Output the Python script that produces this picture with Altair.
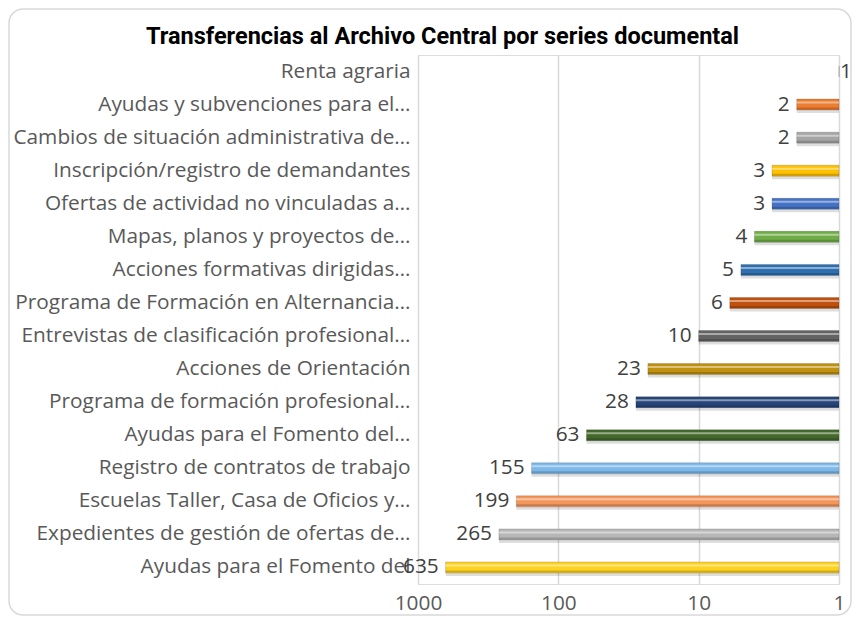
import altair as alt
import pandas as pd

categories = [
    "Renta agraria\u00a0\u00a0\u00a0",
    "Ayudas y subvenciones para el…",
    "Cambios de situación administrativa de…",
    "Inscripción/registro de demandantes\u00a0\u00a0\u00a0",
    "Ofertas de actividad no vinculadas a…",
    "Mapas, planos y proyectos de…",
    "Acciones formativas dirigidas…",
    "Programa de Formación en Alternancia…",
    "Entrevistas de clasificación profesional…",
    "Acciones de Orientación\u00a0\u00a0\u00a0",
    "Programa de formación profesional…",
    "Ayudas para el Fomento del…",
    "Registro de contratos de trabajo\u00a0\u00a0\u00a0",
    "Escuelas Taller, Casa de Oficios y…",
    "Expedientes de gestión de ofertas de…",
    "Ayudas para el Fomento del",
]
values = [1, 2, 2, 3, 3, 4, 5, 6, 10, 23, 28, 63, 155, 199, 265, 635]
colors = [
    "#5B9BD5", "#ED7D31", "#A5A5A5", "#FFC000", "#4472C4", "#70AD47",
    "#2E6FB0", "#C0500E", "#636363", "#C09010", "#264478", "#43682B",
    "#7CB8E8", "#F4955A", "#B7B7B7", "#FFD21F",
]
ticks = [1, 10, 100, 1000]
title_text = "Transferencias al Archivo Central por series documental"

df = pd.DataFrame({"cat": categories, "value": values, "color": colors})
df["base"] = 1

W, H = 421, 529
PAD_L, PAD_T, PAD_R, PAD_B = 410, 47, 13, 32
LABEL_FONT = "Open Sans"
LABEL_SIZE = 20.8

xscale = alt.Scale(type="log", domain=[1, 1000], reverse=True)
yenc = alt.Y("cat:N", sort=categories,
             scale=alt.Scale(paddingInner=0, paddingOuter=0),
             axis=alt.Axis(title=None, domain=False, ticks=False, labelPadding=8,
                           labelFont=LABEL_FONT, labelFontSize=LABEL_SIZE,
                           labelColor="#595959", labelLimit=600))
xenc = alt.X("value:Q", scale=xscale,
             axis=alt.Axis(title=None, values=ticks, format="d", domain=False, ticks=False,
                           grid=True, gridColor="#d9d9d9", gridWidth=1.5,
                           labelFont=LABEL_FONT, labelFontSize=LABEL_SIZE,
                           labelColor="#595959", labelPadding=9,
                           labelFlush=False))

base = alt.Chart(df)

shadow = base.mark_bar(size=9, yOffset=4, color="#000000", opacity=0.13).encode(
    x=xenc, x2="base:Q", y=yenc)
bars = base.mark_bar(size=11, stroke="#00000033", strokeWidth=0.8).encode(
    x=xenc, x2="base:Q", y=yenc,
    color=alt.Color("color:N", scale=None, legend=None))
hi = base.mark_bar(size=2, yOffset=-2, color="#ffffff", opacity=0.45).encode(
    x=xenc, x2="base:Q", y=yenc)
lo = base.mark_bar(size=2, yOffset=4, color="#000000", opacity=0.18).encode(
    x=xenc, x2="base:Q", y=yenc)

labels = base.transform_filter("datum.value > 1").mark_text(
    align="right", baseline="middle", dx=-7, font=LABEL_FONT, fontSize=LABEL_SIZE,
    color="#404040").encode(x=xenc, y=yenc, text="value:Q")
labels1 = base.transform_filter("datum.value <= 1").mark_text(
    align="left", baseline="middle", dx=1, font=LABEL_FONT, fontSize=LABEL_SIZE,
    color="#404040").encode(x=xenc, y=yenc, text="value:Q")

one = pd.DataFrame({"t": [title_text]})
border = alt.Chart(one).mark_rect(
    fill=None, stroke="#d9d9d9", strokeWidth=1.5, cornerRadius=14).encode(
    x=alt.value(-PAD_L + 1), x2=alt.value(W + PAD_R - 1),
    y=alt.value(-PAD_T + 1), y2=alt.value(H + PAD_B - 1))
title = alt.Chart(one).mark_text(
    font="Roboto", fontSize=23.5, fontWeight="bold", color="#000000",
    align="center", baseline="alphabetic").encode(
    x=alt.value(24.5), y=alt.value(-11), text="t:N")

chart = alt.layer(border, title, shadow, bars, hi, lo, labels, labels1).properties(
    width=W, height=H,
    autosize=alt.AutoSizeParams(type="none"),
    padding={"left": PAD_L, "top": PAD_T, "right": PAD_R, "bottom": PAD_B},
).configure_view(stroke=None).configure(background="white")

chart.save("out.html", embed_options={"renderer": "svg", "actions": False})
